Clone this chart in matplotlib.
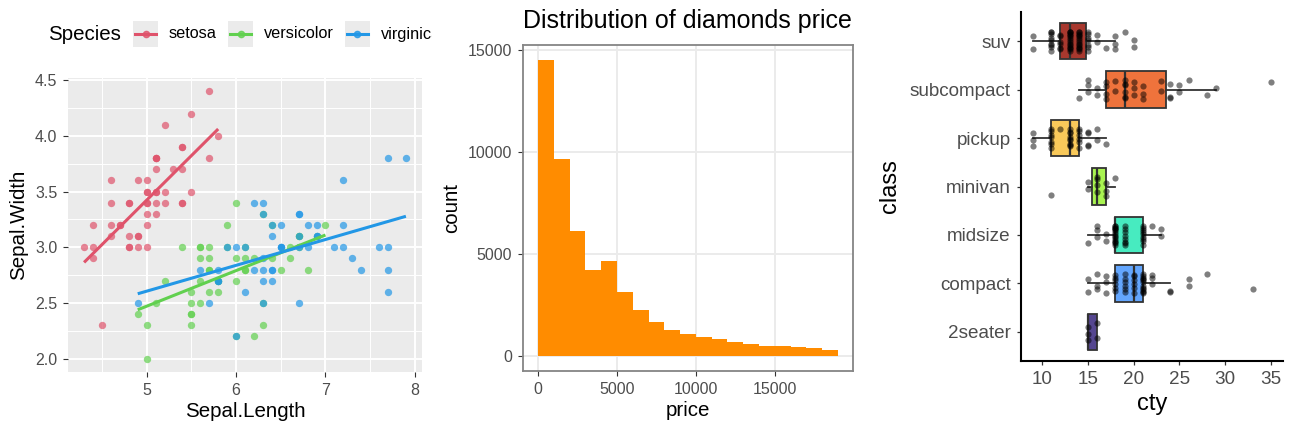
import numpy as np
import matplotlib.pyplot as plt
from matplotlib.patches import Rectangle
from matplotlib.lines import Line2D
from matplotlib.transforms import Bbox, TransformedBbox

plt.rcParams['font.family'] = ['Liberation Sans', 'DejaVu Sans']

# ---- iris (panel 1) ----
species = ['setosa', 'versicolor', 'virginica']
species_colors = ['#DF536B', '#61D04F', '#2297E6']

setosa_length = [5.1, 4.9, 4.7, 4.6, 5.0, 5.4, 4.6, 5.0, 4.4, 4.9, 5.4, 4.8, 4.8, 4.3, 5.8, 5.7, 5.4,
                 5.1, 5.7, 5.1, 5.4, 5.1, 4.6, 5.1, 4.8, 5.0, 5.0, 5.2, 5.2, 4.7, 4.8, 5.4, 5.2, 5.5,
                 4.9, 5.0, 5.5, 4.9, 4.4, 5.1, 5.0, 4.5, 4.4, 5.0, 5.1, 4.8, 5.1, 4.6, 5.3, 5.0]
setosa_width = [3.5, 3.0, 3.2, 3.1, 3.6, 3.9, 3.4, 3.4, 2.9, 3.1, 3.7, 3.4, 3.0, 3.0, 4.0, 4.4, 3.9,
                3.5, 3.8, 3.8, 3.4, 3.7, 3.6, 3.3, 3.4, 3.0, 3.4, 3.5, 3.4, 3.2, 3.1, 3.4, 4.1, 4.2,
                3.1, 3.2, 3.5, 3.6, 3.0, 3.4, 3.5, 2.3, 3.2, 3.5, 3.8, 3.0, 3.8, 3.2, 3.7, 3.3]
versicolor_length = [7.0, 6.4, 6.9, 5.5, 6.5, 5.7, 6.3, 4.9, 6.6, 5.2, 5.0, 5.9, 6.0, 6.1, 5.6, 6.7,
                     5.6, 5.8, 6.2, 5.6, 5.9, 6.1, 6.3, 6.1, 6.4, 6.6, 6.8, 6.7, 6.0, 5.7, 5.5, 5.5,
                     5.8, 6.0, 5.4, 6.0, 6.7, 6.3, 5.6, 5.5, 5.5, 6.1, 5.8, 5.0, 5.6, 5.7, 5.7, 6.2,
                     5.1, 5.7]
versicolor_width = [3.2, 3.2, 3.1, 2.3, 2.8, 2.8, 3.3, 2.4, 2.9, 2.7, 2.0, 3.0, 2.2, 2.9, 2.9, 3.1,
                    3.0, 2.7, 2.2, 2.5, 3.2, 2.8, 2.5, 2.8, 2.9, 3.0, 2.8, 3.0, 2.9, 2.6, 2.4, 2.4,
                    2.7, 2.7, 3.0, 3.4, 3.1, 2.3, 3.0, 2.5, 2.6, 3.0, 2.6, 2.3, 2.7, 3.0, 2.9, 2.9,
                    2.5, 2.8]
virginica_length = [6.3, 5.8, 7.1, 6.3, 6.5, 7.6, 4.9, 7.3, 6.7, 7.2, 6.5, 6.4, 6.8, 5.7, 5.8, 6.4,
                    6.5, 7.7, 7.7, 6.0, 6.9, 5.6, 7.7, 6.3, 6.7, 7.2, 6.2, 6.1, 6.4, 7.2, 7.4, 7.9,
                    6.4, 6.3, 6.1, 7.7, 6.3, 6.4, 6.0, 6.9, 6.7, 6.9, 5.8, 6.8, 6.7, 6.7, 6.3, 6.5,
                    6.2, 5.9]
virginica_width = [3.3, 2.7, 3.0, 2.9, 3.0, 3.0, 2.5, 2.9, 2.5, 3.6, 3.2, 2.7, 3.0, 2.5, 2.8, 3.2,
                   3.0, 3.8, 2.6, 2.2, 3.2, 2.8, 2.8, 2.7, 3.3, 3.2, 2.8, 3.0, 2.8, 3.0, 2.8, 3.8,
                   2.8, 2.8, 2.6, 3.0, 3.4, 3.1, 3.0, 3.1, 3.1, 3.1, 2.7, 3.2, 3.3, 3.0, 2.5, 3.0,
                   3.4, 3.0]
sepal_length = [setosa_length, versicolor_length, virginica_length]
sepal_width = [setosa_width, versicolor_width, virginica_width]

# ---- diamonds price histogram (panel 2) ----
price_edges = list(range(0, 20000, 1000))
price_counts = [14524, 9683, 6129, 4225, 4665, 3163, 2278, 1668, 1307, 1076,
                930, 826, 697, 583, 499, 505, 440, 396, 286]

# ---- mpg city mileage by class (panel 3) ----
mpg_classes = ['2seater', 'compact', 'midsize', 'minivan', 'pickup', 'subcompact', 'suv']
class_colors = ['#554690', '#63A6FE', '#47EBC0', '#A9F451', '#F9C95A', '#EF733C', '#A8382E']
cty_2seater = [15, 15, 15, 16, 16]
cty_compact = [15, 15, 16, 16, 16, 17, 17, 17, 18, 18, 18, 18, 18, 18, 19, 19, 19, 19, 19, 19,
               20, 20, 20, 20, 20, 20, 21, 21, 21, 21, 21, 21, 21, 21, 21, 21, 21, 21, 22, 22, 22,
               24, 24, 26, 26, 28, 33]
cty_midsize = [15, 16, 16, 16, 17, 17, 18, 18, 18, 18, 18, 18, 18, 18, 18, 18, 18, 18, 18, 18, 18,
               19, 19, 19, 19, 19, 19, 19, 19, 21, 21, 21, 21, 21, 21, 21, 21, 21, 22, 23, 23]
cty_minivan = [11, 15, 15, 16, 16, 16, 16, 17, 17, 17, 18]
cty_pickup = [9, 9, 9, 11, 11, 11, 11, 11, 11, 11, 12, 13, 13, 13, 13, 13, 13, 13, 13, 13,
              14, 14, 14, 14, 14, 14, 15, 15, 15, 15, 16, 16, 17]
cty_subcompact = [14, 15, 15, 15, 16, 16, 17, 17, 17, 17, 18, 18, 19, 19, 19, 19, 19, 19, 20, 20,
                  20, 21, 21, 21, 23, 23, 24, 24, 24, 25, 25, 26, 28, 29, 35]
cty_suv = [9, 9, 11, 11, 11, 11, 11, 11, 11, 11, 11, 12, 12, 12, 12, 12, 12,
           13, 13, 13, 13, 13, 13, 13, 13, 13, 13, 13, 13, 13, 13, 13,
           14, 14, 14, 14, 14, 14, 14, 14, 14, 14, 14, 14, 14, 14,
           15, 15, 15, 15, 15, 15, 15, 16, 16, 17, 18, 18, 18, 19, 20, 20]
cty_by_class = [cty_2seater, cty_compact, cty_midsize, cty_minivan, cty_pickup, cty_subcompact, cty_suv]
# fixed vertical jitter pattern (position only)
jitter = [-0.17, 0.10, -0.05, 0.19, -0.12, 0.03, 0.15, -0.20, 0.07, -0.09, 0.18, -0.02, 0.12, -0.15]

W, H = 1296, 432
fig = plt.figure(figsize=(W / 100, H / 100), dpi=100)


def box(left, top, right, bottom):
    return [left / W, 1 - bottom / H, (right - left) / W, (bottom - top) / H]


tick_gray = '#4D4D4D'

# ================= panel 1 =================
ax1 = fig.add_axes(box(68, 78, 422, 372))
ax1.set_facecolor('#EBEBEB')
for name, col, xs, ys in zip(species, species_colors, sepal_length, sepal_width):
    ax1.scatter(xs, ys, s=28, color=col, alpha=0.7, linewidths=0, zorder=3)
    slope, icpt = np.polyfit(xs, ys, 1)
    xl = np.array([min(xs), max(xs)])
    ax1.plot(xl, slope * xl + icpt, color=col, lw=2.2, zorder=4, solid_capstyle='butt')
ax1.set_xlim(4.12, 8.08)
ax1.set_ylim(1.88, 4.52)
ax1.set_xticks([5, 6, 7, 8])
ax1.set_yticks([2.0, 2.5, 3.0, 3.5, 4.0, 4.5])
ax1.set_yticklabels(['2.0', '2.5', '3.0', '3.5', '4.0', '4.5'])
ax1.set_xticks([4.5, 5.5, 6.5, 7.5], minor=True)
ax1.set_yticks(np.arange(2.25, 4.5, 0.5), minor=True)
ax1.grid(which='major', color='white', lw=1.4)
ax1.grid(which='minor', color='white', lw=0.7)
ax1.set_axisbelow(True)
for s in ax1.spines.values():
    s.set_visible(False)
ax1.tick_params(which='major', length=3.7, width=0.8, color='#333333', pad=4,
                labelsize=11.5, labelcolor=tick_gray)
ax1.tick_params(which='minor', length=0)
ax1.set_xlabel('Sepal.Length', fontsize=14.8, labelpad=3)
ax1.set_ylabel('Sepal.Width', fontsize=14.8, labelpad=5)

# legend on top
fig.text(48 / W, 1 - 35 / H, 'Species', fontsize=14.8, ha='left', va='center')
key_x = [133, 228, 345]
label_x = [169, 264, 381]
clip = TransformedBbox(Bbox.from_extents(0, 0, 432 / W, 1), fig.transFigure)
for name, col, kx, lx in zip(species, species_colors, key_x, label_x):
    fig.patches.append(Rectangle((kx / W, 1 - 47 / H), 25 / W, 26 / H, transform=fig.transFigure,
                                 facecolor='#EBEBEB', edgecolor='none'))
    fig.lines.append(Line2D([(kx + 2) / W, (kx + 23) / W], [1 - 34 / H, 1 - 34 / H],
                            transform=fig.transFigure, color=col, lw=2.2))
    fig.lines.append(Line2D([(kx + 12.5) / W], [1 - 34 / H], transform=fig.transFigure,
                            color=col, marker='o', markersize=4.5, alpha=0.8, lw=0))
    t = fig.text(lx / W, 1 - 34 / H, name, fontsize=11.7, ha='left', va='center')
    t.set_clip_box(clip)
    t.set_clip_on(True)

# ================= panel 2 =================
ax2 = fig.add_axes(box(523, 45, 853, 371))
ax2.stairs(price_counts, price_edges, fill=True, color='#FF8C00', zorder=3)
ax2.set_xlim(-950, 19950)
ax2.set_ylim(-726, 15250)
ax2.set_xticks([0, 5000, 10000, 15000])
ax2.set_yticks([0, 5000, 10000, 15000])
ax2.grid(color='#EBEBEB', lw=1.4)
ax2.set_axisbelow(True)
for s in ax2.spines.values():
    s.set_color('#858585')
    s.set_linewidth(1.3)
ax2.tick_params(length=3.7, width=0.8, color='#333333', pad=4, labelsize=11.5, labelcolor=tick_gray)
ax2.set_xlabel('price', fontsize=14.8, labelpad=3)
ax2.set_ylabel('count', fontsize=14.8, labelpad=5)
ax2.set_title('Distribution of diamonds price', loc='left', fontsize=18, pad=12)

# ================= panel 3 =================
ax3 = fig.add_axes(box(1021, 12, 1283, 361))
pos = np.arange(1, len(mpg_classes) + 1)
bp = ax3.boxplot(cty_by_class, positions=pos, orientation='horizontal', widths=0.75,
                 patch_artist=True, showfliers=False, showcaps=False, whis=1.5,
                 medianprops=dict(color='#333333', lw=1.6),
                 whiskerprops=dict(color='#333333', lw=1.3),
                 boxprops=dict(edgecolor='#333333', lw=1.3), zorder=2)
for patch, col in zip(bp['boxes'], class_colors):
    patch.set_facecolor(col)
for p, vals in zip(pos, cty_by_class):
    offs = [jitter[i % len(jitter)] for i in range(len(vals))]
    ax3.scatter(vals, p + np.array(offs), s=20, color='black', alpha=0.5, linewidths=0, zorder=4)
ax3.set_xlim(7.7, 36.3)
ax3.set_ylim(0.4, 7.6)
ax3.set_xticks([10, 15, 20, 25, 30, 35])
ax3.set_yticks(pos)
ax3.set_yticklabels(mpg_classes)
ax3.spines['top'].set_visible(False)
ax3.spines['right'].set_visible(False)
ax3.spines['left'].set_linewidth(1.5)
ax3.spines['bottom'].set_linewidth(1.5)
ax3.tick_params(length=3, width=0.9, color='#333333', pad=4.5, labelsize=13.6, labelcolor=tick_gray)
ax3.set_xlabel('cty', fontsize=17, labelpad=3)
ax3.set_ylabel('class', fontsize=17, labelpad=6)

fig.savefig('out.png', dpi=100)
